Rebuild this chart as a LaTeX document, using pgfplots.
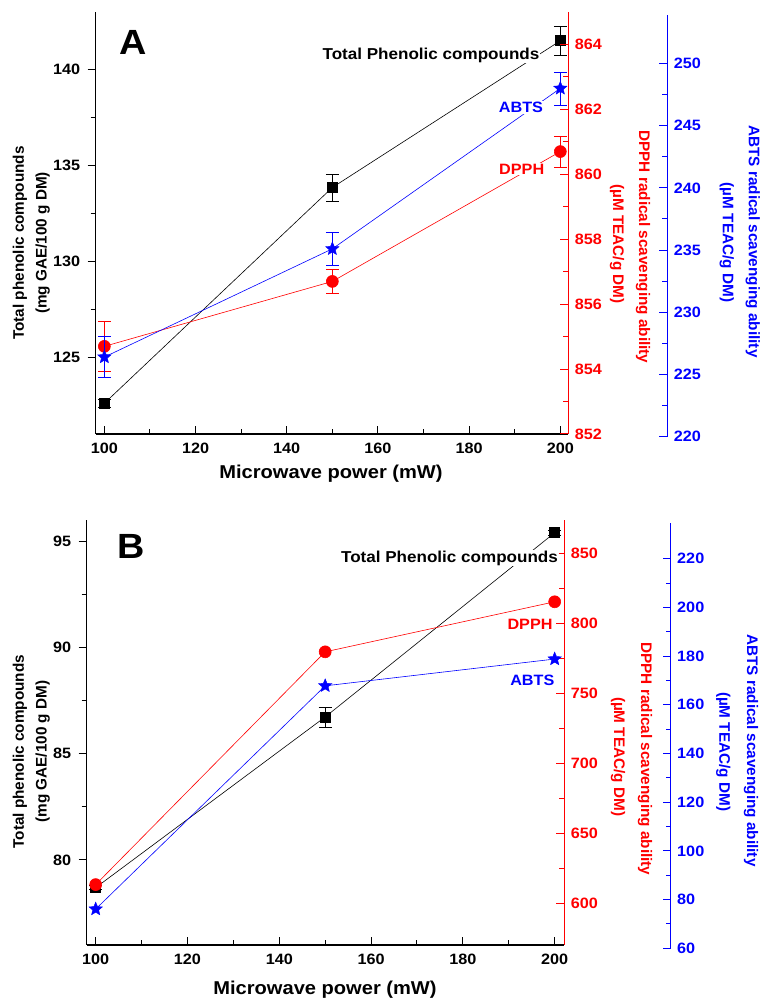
\documentclass[border=0pt]{standalone}
\usepackage{pgfplots}
\pgfplotsset{compat=1.18}
\usepackage{fontspec}
\setmainfont{Liberation Sans}
\newfontfamily\hfont[FakeStretch=1.08]{Liberation Sans}

\newcommand{\tl}{\hfont\fontsize{15}{17}\selectfont\bfseries}
\newcommand{\lb}{\fontsize{15.3}{18}\selectfont\bfseries}

% filled five-pointed star
\pgfdeclareplotmark{fstar}{%
  \pgfpathmoveto{\pgfpointpolar{90}{\pgfplotmarksize}}%
  \pgfpathlineto{\pgfpointpolar{126}{0.45\pgfplotmarksize}}%
  \pgfpathlineto{\pgfpointpolar{162}{\pgfplotmarksize}}%
  \pgfpathlineto{\pgfpointpolar{198}{0.45\pgfplotmarksize}}%
  \pgfpathlineto{\pgfpointpolar{234}{\pgfplotmarksize}}%
  \pgfpathlineto{\pgfpointpolar{270}{0.45\pgfplotmarksize}}%
  \pgfpathlineto{\pgfpointpolar{306}{\pgfplotmarksize}}%
  \pgfpathlineto{\pgfpointpolar{342}{0.45\pgfplotmarksize}}%
  \pgfpathlineto{\pgfpointpolar{18}{\pgfplotmarksize}}%
  \pgfpathlineto{\pgfpointpolar{54}{0.45\pgfplotmarksize}}%
  \pgfpathclose
  \pgfusepathqfillstroke
}

\pgfplotsset{
  base/.style={
    scale only axis,
    /pgf/number format/assume math mode=true,
    ticklabel style={font=\tl},
    major tick length=8pt, minor tick length=5pt,
    every tick/.style={line width=1pt},
    axis line style={-, line width=1.3pt},
    clip=false,
  },
  main/.style={base,
    axis x line*=bottom, axis y line*=left,
    xtick align=inside, ytick align=outside,
    xtick={100,120,...,200}, minor x tick num=1,
    minor y tick num=1,
    xticklabel style={yshift=-5pt},
    yticklabel style={xshift=-4pt},
  },
  redax/.style={base,
    axis y line*=right, axis x line=none, xtick=\empty,
    ytick align=inside, minor y tick num=1,
    y axis line style={red},
    ytick style={red}, yticklabel style={red, xshift=3pt},
  },
  blueax/.style={base,
    axis y line*=right, axis x line=none, xtick=\empty,
    ytick align=inside, minor y tick num=1,
    y axis line style={blue},
    ytick style={blue}, yticklabel style={blue, xshift=3pt},
  },
  ebar/.style={error bars/.cd, y dir=both, y explicit,
    error bar style={line width=0.6pt, #1},
    error mark options={rotate=90, mark size=6.5pt, line width=0.6pt, #1}},
  tpc/.style={black, line width=0.6pt, mark=square*, mark size=5pt, mark options={solid}},
  dpph/.style={red, line width=0.6pt, mark=*, mark size=6pt, mark options={solid}},
  abts/.style={blue, line width=0.6pt, mark=fstar, mark size=7pt, mark options={solid, fill=blue, line width=0.4pt}},
}

\begin{document}
\begin{tikzpicture}
\useasboundingbox (0pt,0pt) rectangle (760pt,999pt);

% ===== Panel A =====
\begin{axis}[main, at={(95.7pt,565pt)}, anchor=south west,
  width=472.6pt, height=422pt,
  xmin=98.1, xmax=201.75, ymin=121, ymax=143,
  ytick={125,130,...,140}]
\addplot[tpc, ebar=black] coordinates {
  (100,122.6) +- (0,0.2)
  (150,133.85) +- (0,0.7)
  (200,141.5) +- (0,0.78)
};
\end{axis}

\begin{axis}[redax, at={(95.7pt,565pt)}, anchor=south west,
  width=472.6pt, height=422pt,
  xmin=98.1, xmax=201.75, ymin=852, ymax=865,
  ytick={852,854,...,864}]
\addplot[dpph, ebar=red] coordinates {
  (100,854.7) +- (0,0.77)
  (150,856.7) +- (0,0.36)
  (200,860.7) +- (0,0.48)
};
\end{axis}

\begin{axis}[blueax, at={(95.7pt,562.3pt)}, anchor=south west,
  width=571.6pt, height=421.7pt,
  xmin=98.1, xmax=223.46, ymin=220, ymax=253.9,
  ytick={220,225,...,250}]
\addplot[abts, ebar=blue] coordinates {
  (100,226.4) +- (0,1.65)
  (150,235.1) +- (0,1.35)
  (200,248.0) +- (0,1.33)
};
\end{axis}

% ===== Panel B =====
\begin{axis}[main, at={(86.7pt,54pt)}, anchor=south west,
  width=477.6pt, height=425pt,
  xmin=98.04, xmax=202.1, ymin=76, ymax=96,
  ytick={80,85,...,95}]
\addplot[tpc, ebar=black] coordinates {
  (100,78.7) +- (0,0.1)
  (150,86.73) +- (0,0.47)
  (200,95.4) +- (0,0.1)
};
\end{axis}

\begin{axis}[redax, at={(86.7pt,54pt)}, anchor=south west,
  width=477.6pt, height=425pt,
  xmin=98.04, xmax=202.1, ymin=570, ymax=874,
  ytick={600,650,...,850}]
\addplot[dpph] coordinates {
  (100,613.2) (150,779.7) (200,815.5)
};
\end{axis}

\begin{axis}[blueax, at={(86.7pt,50.7pt)}, anchor=south west,
  width=584pt, height=425.6pt,
  xmin=98.04, xmax=225.28, ymin=60, ymax=234.8,
  ytick={60,80,...,220}]
\addplot[abts] coordinates {
  (100,76.1) (150,167.8) (200,178.8)
};
\end{axis}

% ===== labels, panel A =====
\node[font=\hfont\fontsize{35}{40}\selectfont\bfseries] at (133pt,957pt) {A};
\node[font=\hfont\fontsize{15.8}{19}\selectfont\bfseries, fill=white, inner sep=1pt] at (431pt,944pt) {Total Phenolic compounds};
\node[font=\hfont\fontsize{15}{18}\selectfont\bfseries, text=blue, fill=white, inner sep=1pt] at (521pt,891.7pt) {ABTS};
\node[font=\hfont\fontsize{15}{18}\selectfont\bfseries, text=red, fill=white, inner sep=1pt] at (521.7pt,829.7pt) {DPPH};
\node[font=\lb, rotate=90] at (20pt,756pt) {Total phenolic compounds};
\node[font=\lb, rotate=90] at (42.7pt,756pt) {(mg GAE/100 g DM)};
\node[font=\lb, rotate=-90, text=red] at (643pt,752pt) {DPPH radical scavenging ability};
\node[font=\lb, rotate=-90, text=red] at (617pt,755pt) {(µM TEAC/g DM)};
\node[font=\lb, rotate=-90, text=blue] at (752.7pt,757.5pt) {ABTS radical scavenging ability};
\node[font=\lb, rotate=-90, text=blue] at (726.7pt,756.5pt) {(µM TEAC/g DM)};
\node[font=\hfont\fontsize{18.6}{22}\selectfont\bfseries] at (331pt,525pt) {Microwave power (mW)};

% ===== labels, panel B =====
\node[font=\hfont\fontsize{35}{40}\selectfont\bfseries] at (131pt,452.3pt) {B};
\node[font=\hfont\fontsize{15.8}{19}\selectfont\bfseries, fill=white, inner sep=1pt] at (449.5pt,441pt) {Total Phenolic compounds};
\node[font=\hfont\fontsize{15}{18}\selectfont\bfseries, text=red, fill=white, inner sep=1pt] at (530pt,375pt) {DPPH};
\node[font=\hfont\fontsize{15}{18}\selectfont\bfseries, text=blue, fill=white, inner sep=1pt] at (532.3pt,319pt) {ABTS};
\node[font=\lb, rotate=90] at (20pt,247.3pt) {Total phenolic compounds};
\node[font=\lb, rotate=90] at (42.7pt,247.3pt) {(mg GAE/100 g DM)};
\node[font=\lb, rotate=-90, text=red] at (645pt,240pt) {DPPH radical scavenging ability};
\node[font=\lb, rotate=-90, text=red] at (618pt,242.3pt) {(µM TEAC/g DM)};
\node[font=\lb, rotate=-90, text=blue] at (751pt,248.5pt) {ABTS radical scavenging ability};
\node[font=\lb, rotate=-90, text=blue] at (723.3pt,247.3pt) {(µM TEAC/g DM)};
\node[font=\hfont\fontsize{18.6}{22}\selectfont\bfseries] at (325pt,9pt) {Microwave power (mW)};
\end{tikzpicture}
\end{document}
